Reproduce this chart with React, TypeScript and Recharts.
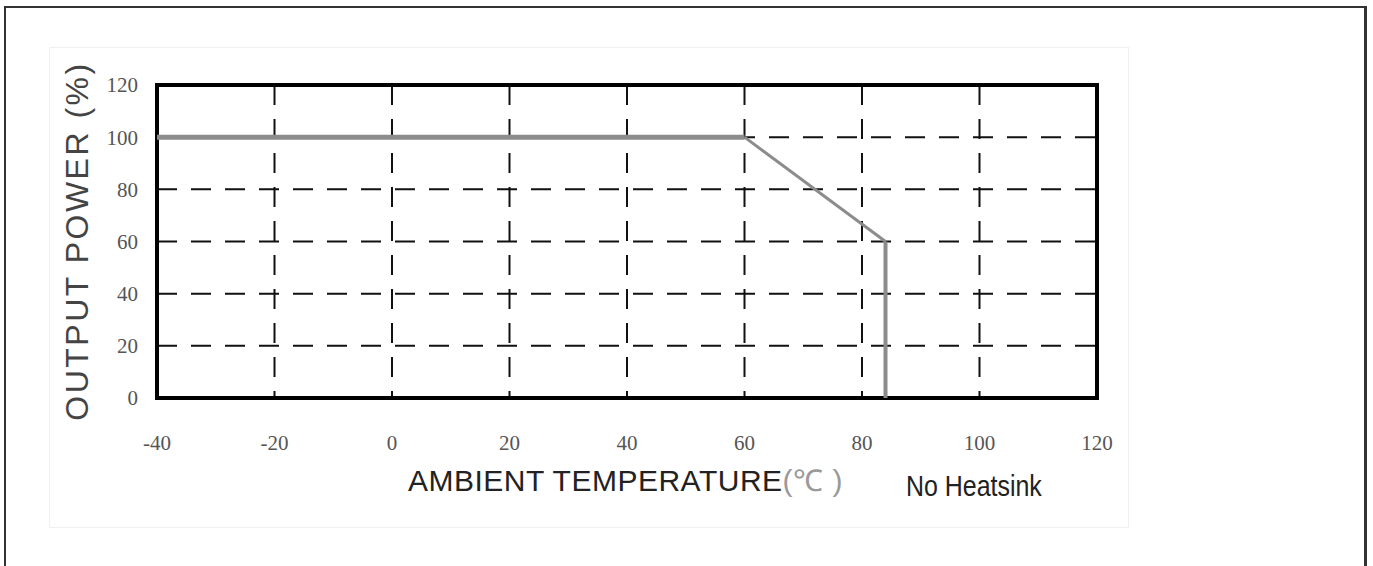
import React from 'react';
import {
    LineChart,
    Line,
    XAxis,
    YAxis,
    CartesianGrid,
    ReferenceArea,
} from 'recharts';

// derating curve: temperature (°C) -> output power (%)
const TEMPS = [-40, 60, 84, 84];
const POWER = [100, 100, 60, 0];

const X_TICKS = [-40, -20, 0, 20, 40, 60, 80, 100, 120];
const Y_TICKS = [0, 20, 40, 60, 80, 100, 120];

const Y_TITLE = 'OUTPUT POWER (%)';
const X_TITLE = 'AMBIENT TEMPERATURE';
const X_UNIT = '(℃ )';
const NOTE = 'No Heatsink';

const pt = (i: number) => ({ temp: TEMPS[i], power: POWER[i] });

// three segments, drawn with slightly different weights like the scan
const plateau = [pt(0), pt(1)];
const slope = [pt(1), pt(2)];
const cutoff = [pt(2), pt(3)];

const LINE_COLOR = '#8c8c8c';
const tickStyle = { fontFamily: '"Liberation Serif", serif', fontSize: 21, fill: '#555' };

export default function App() {
    return (
        <div style={{ position: 'absolute', left: 0, top: 0, width: 1373, height: 566, background: '#fff', overflow: 'hidden' }}>
            {/* outer frame (bottom edge runs off the picture) */}
            <div style={{
                position: 'absolute', left: 4, top: 6, width: 1358, height: 620,
                borderTop: '2px solid #333', borderLeft: '2px solid #333', borderRight: '3px solid #333',
            }} />
            {/* faint panel behind the chart */}
            <div style={{
                position: 'absolute', left: 49, top: 47, width: 1078, height: 479,
                border: '1px solid #f0f0f0', background: '#fff',
            }} />

            <div style={{ position: 'absolute', left: 0, top: 0 }}>
                <LineChart
                    width={1373}
                    height={566}
                    margin={{ top: 85, right: 276, bottom: 108, left: 97 }}
                >
                    <CartesianGrid stroke="#111" strokeWidth={2} strokeDasharray="20 14" />
                    <XAxis
                        dataKey="temp"
                        type="number"
                        domain={[-40, 120]}
                        ticks={X_TICKS}
                        allowDataOverflow
                        axisLine={false}
                        tickLine={false}
                        tickMargin={31}
                        height={60}
                        tick={tickStyle}
                    />
                    <YAxis
                        dataKey="power"
                        type="number"
                        domain={[0, 120]}
                        ticks={Y_TICKS}
                        allowDataOverflow
                        axisLine={false}
                        tickLine={false}
                        tickMargin={13}
                        width={60}
                        tick={tickStyle}
                    />
                    <ReferenceArea x1={-40} x2={120} y1={0} y2={120} fill="none" stroke="#000" strokeWidth={4} />
                    <Line data={plateau} dataKey="power" type="linear" stroke={LINE_COLOR} strokeWidth={5} dot={false} isAnimationActive={false} />
                    <Line data={slope} dataKey="power" type="linear" stroke={LINE_COLOR} strokeWidth={3} dot={false} isAnimationActive={false} />
                    <Line data={cutoff} dataKey="power" type="linear" stroke={LINE_COLOR} strokeWidth={4} dot={false} isAnimationActive={false} />
                </LineChart>
            </div>

            {/* axis titles */}
            <div style={{
                position: 'absolute', left: 77, top: 241, transform: 'translate(-50%, -50%) rotate(-90deg)',
                whiteSpace: 'nowrap', fontFamily: '"Liberation Sans", Arial, sans-serif', fontSize: 32,
                letterSpacing: 2.5, color: '#444', lineHeight: 1,
            }}>
                {Y_TITLE}
            </div>
            <div style={{
                position: 'absolute', left: 408, top: 466, whiteSpace: 'nowrap',
                fontFamily: '"Liberation Sans", Arial, sans-serif', fontSize: 30, color: '#222', lineHeight: 1,
                letterSpacing: 0.5,
            }}>
                {X_TITLE}<span style={{ color: '#999' }}>{X_UNIT}</span>
            </div>
            <div style={{
                position: 'absolute', left: 906, top: 472, whiteSpace: 'nowrap',
                fontFamily: '"Liberation Sans", Arial, sans-serif', fontSize: 29, color: '#222', lineHeight: 1,
                transform: 'scaleX(0.86)', transformOrigin: 'left top',
            }}>
                {NOTE}
            </div>
        </div>
    );
}
